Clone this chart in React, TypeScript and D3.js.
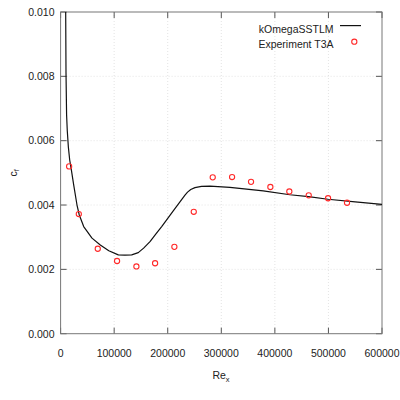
import React from "react";
import * as d3 from "d3";

const simRex = [9000, 9500, 10100, 11200, 12500, 14500, 17000, 20000, 24500, 30600, 34900, 43100, 58600, 74100, 90000, 107700, 120000, 132700, 145000, 155000, 166900, 178000, 188700, 210300, 232200, 237000, 243000, 250800, 263000, 278800, 316100, 378300, 428100, 463000, 499000, 550000, 600000];
const simCf = [0.0115, 0.0100, 0.0081, 0.0068, 0.0063, 0.0058, 0.0054, 0.0051, 0.00462, 0.00400, 0.00369, 0.00333, 0.00297, 0.00276, 0.00258, 0.00245, 0.00244, 0.00245, 0.00252, 0.00266, 0.00286, 0.00310, 0.00333, 0.00382, 0.00431, 0.00440, 0.00448, 0.00454, 0.00458, 0.00459, 0.00455, 0.00444, 0.00432, 0.00426, 0.00418, 0.00410, 0.00402];

const expRex = [15900, 34000, 69400, 105400, 141500, 176400, 212400, 248600, 284000, 320100, 355500, 391600, 427000, 463200, 499300, 534700];
const expCf = [0.00520, 0.00372, 0.00264, 0.00226, 0.00209, 0.00219, 0.00270, 0.00379, 0.00486, 0.00487, 0.00472, 0.00456, 0.00442, 0.00430, 0.00421, 0.00407];

const xTicks = [0, 100000, 200000, 300000, 400000, 500000, 600000];
const yTicks = [0, 0.002, 0.004, 0.006, 0.008, 0.01];

const seriesNames = ["kOmegaSSTLM", "Experiment T3A"];

export default function App() {
  const left = 60.6, right = 382, top = 12, bottom = 333.7;
  const x = d3.scaleLinear().domain([0, 600000]).range([left, right]);
  const y = d3.scaleLinear().domain([0, 0.01]).range([bottom, top]);
  const line = d3
    .line<number>()
    .x((_, i) => x(simRex[i]))
    .y((d) => y(d));
  const font = "'Liberation Sans', Arial, sans-serif";
  const textColor = "#222";
  const tickLen = 6;
  return (
    <svg
      width={400}
      height={400}
      style={{ position: "absolute", left: 0, top: 0, background: "#fff" }}
      fontFamily={font}
      fontSize={10.5}
    >
      <rect width={400} height={400} fill="#fff" />
      <defs>
        <clipPath id="plotclip">
          <rect x={left} y={top} width={right - left} height={bottom - top} />
        </clipPath>
      </defs>
      {/* grid */}
      {xTicks.slice(1, -1).map((t) => (
        <line key={"gx" + t} x1={x(t)} x2={x(t)} y1={top} y2={bottom} stroke="#d8d8d8" strokeWidth={0.7} strokeDasharray="1,2" />
      ))}
      {yTicks.slice(1, -1).map((t) => (
        <line key={"gy" + t} x1={left} x2={right} y1={y(t)} y2={y(t)} stroke="#d8d8d8" strokeWidth={0.7} strokeDasharray="1,2" />
      ))}
      {/* ticks */}
      {xTicks.map((t) => (
        <g key={"tx" + t} stroke="#555" strokeWidth={1}>
          <line x1={x(t)} x2={x(t)} y1={bottom} y2={bottom - tickLen} />
          <line x1={x(t)} x2={x(t)} y1={top} y2={top + tickLen} />
        </g>
      ))}
      {yTicks.map((t) => (
        <g key={"ty" + t} stroke="#555" strokeWidth={1}>
          <line x1={left} x2={left + tickLen} y1={y(t)} y2={y(t)} />
          <line x1={right} x2={right - tickLen} y1={y(t)} y2={y(t)} />
        </g>
      ))}
      {/* frame */}
      <rect x={left} y={top} width={right - left} height={bottom - top} fill="none" stroke="#777" strokeWidth={1} />
      {/* tick labels */}
      {xTicks.map((t) => (
        <text key={"lx" + t} x={x(t)} y={357} textAnchor="middle" fill={textColor}>
          {String(t)}
        </text>
      ))}
      {yTicks.map((t) => (
        <text key={"ly" + t} x={54.5} y={y(t) + 3.8} textAnchor="end" fill={textColor}>
          {t.toFixed(3)}
        </text>
      ))}
      {/* axis labels */}
      <text x={221} y={379} textAnchor="middle" fill={textColor} fontSize={10.5}>
        Re<tspan fontSize={7.5} dy={3}>x</tspan>
      </text>
      <text transform={`translate(17,${(top + bottom) / 2}) rotate(-90)`} textAnchor="middle" fill={textColor} fontSize={10.5}>
        c<tspan fontSize={7.5} dy={2}>f</tspan>
      </text>
      {/* data */}
      <g clipPath="url(#plotclip)">
        <path d={line(simCf) || ""} fill="none" stroke="#111" strokeWidth={1.2} strokeLinejoin="round" />
        {expCf.map((v, i) => (
          <circle key={"c" + i} cx={x(expRex[i])} cy={y(v)} r={2.6} fill="none" stroke="#ff2a2a" strokeWidth={1.1} />
        ))}
      </g>
      {/* legend */}
      <text x={333.5} y={32.6} textAnchor="end" fill={textColor}>
        {seriesNames[0]}
      </text>
      <line x1={340} x2={361} y1={25.6} y2={25.6} stroke="#111" strokeWidth={1.2} />
      <text x={333.5} y={47.6} textAnchor="end" fill={textColor}>
        {seriesNames[1]}
      </text>
      <circle cx={354.3} cy={41.7} r={2.6} fill="none" stroke="#ff2a2a" strokeWidth={1.1} />
    </svg>
  );
}
